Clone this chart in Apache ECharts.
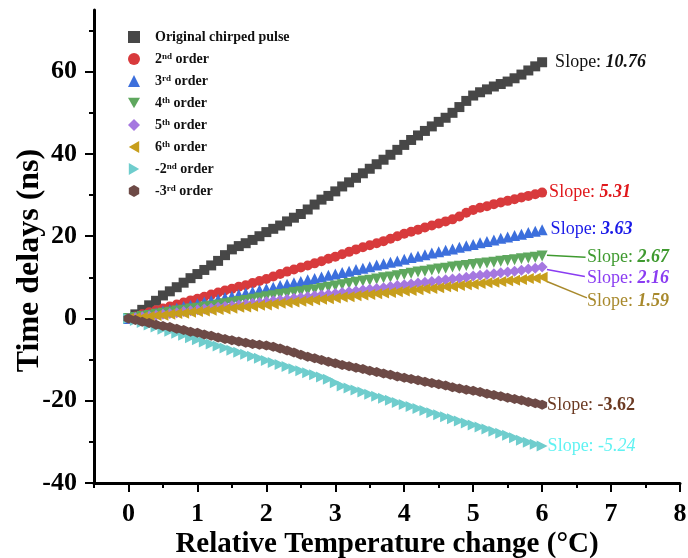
<!DOCTYPE html>
<html><head><meta charset="utf-8">
<script src="https://cdn.jsdelivr.net/npm/echarts@6/dist/echarts.min.js"></script>
<style>html,body{margin:0;padding:0;background:#fff}#c{width:688px;height:558px}</style>
</head><body><div id="c"></div>
<script>
const temps = [0,0.1,0.2,0.3,0.4,0.5,0.6,0.7,0.8,0.9,1.0,1.1,1.2,1.3,1.4,1.5,1.6,1.7,1.8,1.9,2.0,2.1,2.2,2.3,2.4,2.5,2.6,2.7,2.8,2.9,3.0,3.1,3.2,3.3,3.4,3.5,3.6,3.7,3.8,3.9,4.0,4.1,4.2,4.3,4.4,4.5,4.6,4.7,4.8,4.9,5.0,5.1,5.2,5.3,5.4,5.5,5.6,5.7,5.8,5.9,6.0];
const seriesNames = ['Original chirped pulse','2nd order','3rd order','4th order','5th order','6th order','-2nd order','-3rd order'];
const original = [0,1.0,2.1,3.2,4.3,5.6,6.6,7.6,8.7,9.8,10.8,11.8,12.9,14.0,15.4,16.8,17.6,18.3,19.1,20.0,21.0,21.8,22.6,23.6,24.5,25.4,26.5,27.7,28.9,29.8,30.9,32.1,33.1,34.2,35.3,36.4,37.5,38.6,39.8,41.0,42.2,43.4,44.5,45.6,46.7,47.8,48.8,50.0,51.4,52.9,54.2,55.0,55.7,56.4,57.0,57.6,58.4,59.3,60.3,61.3,62.3];
const order2 = [0,0.5,1.0,1.5,2.0,2.4,2.9,3.4,3.9,4.4,4.8,5.3,5.8,6.3,6.8,7.2,7.7,8.1,8.6,9.1,9.6,10.2,10.8,11.4,11.9,12.4,12.9,13.4,13.9,14.5,15.0,15.6,16.2,16.8,17.3,17.8,18.3,18.8,19.4,20.0,20.6,21.1,21.6,22.1,22.6,23.1,23.6,24.1,24.8,25.7,26.4,26.9,27.3,27.8,28.2,28.6,29.0,29.4,29.8,30.2,30.6];
const order3 = [0,0.3,0.7,1.0,1.4,1.8,2.1,2.5,2.9,3.2,3.6,4.0,4.3,4.7,5.1,5.4,5.8,6.2,6.5,6.9,7.2,7.6,8.0,8.3,8.7,9.0,9.4,9.7,10.1,10.5,10.8,11.2,11.5,11.9,12.2,12.6,13.0,13.3,13.7,14.0,14.4,14.8,15.1,15.5,15.9,16.2,16.6,16.9,17.3,17.7,18.0,18.4,18.7,19.1,19.5,19.8,20.2,20.5,20.9,21.2,21.6];
const order4 = [0,0.25,0.5,0.75,1.0,1.25,1.5,1.8,2.0,2.3,2.5,2.8,3.0,3.3,3.6,3.8,4.1,4.4,4.7,5.0,5.3,5.5,5.8,6.0,6.3,6.5,6.8,7.0,7.3,7.6,7.9,8.2,8.5,8.8,9.1,9.3,9.6,9.9,10.1,10.4,10.7,11.0,11.3,11.5,11.8,12.0,12.2,12.5,12.7,12.9,13.1,13.3,13.5,13.7,13.9,14.1,14.3,14.5,14.7,14.9,15.2];
const order5 = [0,0.2,0.4,0.6,0.8,1.0,1.2,1.4,1.7,1.9,2.1,2.3,2.5,2.7,2.9,3.1,3.3,3.5,3.7,3.9,4.1,4.3,4.5,4.7,4.9,5.1,5.3,5.5,5.7,5.9,6.1,6.3,6.5,6.7,6.9,7.1,7.3,7.5,7.8,8.0,8.2,8.4,8.6,8.8,9.0,9.2,9.4,9.6,9.8,10.0,10.3,10.5,10.7,10.9,11.1,11.3,11.5,11.7,12.0,12.2,12.5];
const order6 = [0,0.2,0.3,0.5,0.7,0.8,1.0,1.2,1.3,1.5,1.7,1.8,2.0,2.2,2.3,2.5,2.7,2.8,3.0,3.2,3.3,3.5,3.7,3.8,4.0,4.2,4.3,4.5,4.7,4.8,5.0,5.2,5.3,5.5,5.7,5.8,6.0,6.2,6.3,6.5,6.7,6.8,7.0,7.2,7.3,7.5,7.7,7.8,8.0,8.2,8.3,8.5,8.7,8.8,9.0,9.2,9.3,9.5,9.7,9.8,10.0];
const orderM2 = [0,-0.5,-1.0,-1.6,-2.1,-2.6,-3.1,-3.6,-4.1,-4.7,-5.2,-5.7,-6.2,-6.7,-7.2,-7.7,-8.2,-8.7,-9.2,-9.7,-10.2,-10.7,-11.2,-11.7,-12.2,-12.7,-13.2,-13.7,-14.2,-14.8,-15.6,-16.4,-16.9,-17.4,-17.9,-18.4,-18.9,-19.4,-19.9,-20.4,-20.9,-21.4,-21.9,-22.4,-22.9,-23.4,-23.9,-24.4,-24.9,-25.4,-25.9,-26.4,-26.9,-27.4,-27.9,-28.4,-29.0,-29.6,-30.1,-30.6,-31.0];
const orderM3 = [0,-0.4,-0.8,-1.1,-1.5,-1.8,-2.1,-2.5,-2.8,-3.2,-3.5,-3.9,-4.2,-4.6,-5.0,-5.3,-5.6,-5.9,-6.2,-6.4,-6.6,-6.9,-7.3,-7.8,-8.3,-8.8,-9.3,-9.7,-10.1,-10.5,-10.9,-11.3,-11.6,-12.0,-12.3,-12.7,-13.0,-13.4,-13.7,-14.1,-14.4,-14.7,-15.0,-15.4,-15.7,-16.0,-16.3,-16.7,-17.0,-17.3,-17.6,-17.9,-18.3,-18.6,-18.9,-19.3,-19.6,-19.9,-20.3,-20.6,-21.0];
const slopes = ['10.76','5.31','3.63','2.67','2.16','1.59','-5.24','-3.62'];
const xTicks = [0,1,2,3,4,5,6,7,8];
const xMinorTicks = [-0.5,0.5,1.5,2.5,3.5,4.5,5.5,6.5,7.5];
const yTicks = [-40,-20,0,20,40,60];
const yMinorTicks = [-30,-10,10,30,50,70];

const allValues = [original, order2, order3, order4, order5, order6, orderM2, orderM3];
const FONT = "'Times New Roman','Liberation Serif',serif";
const hex = 'path://M0,-10 L8.66,-5 L8.66,5 L0,10 L-8.66,5 L-8.66,-5 Z';
const triDown = 'path://M0,0 L10,0 L5,8.66 Z';
const triLeft = 'path://M8.66,0 L8.66,10 L0,5 Z';
const triRight = 'path://M0,0 L8.66,5 L0,10 Z';
const styles = [
  {color:'#474747', symbol:'rect', size:10, lab:'#111111', bold:true, italic:true, dist:8},
  {color:'#d83a3c', symbol:'circle', size:10, lab:'#e0181c', bold:true, italic:true, dist:2},
  {color:'#3c6fdc', symbol:'triangle', size:11, lab:'#1a1ae8', bold:true, italic:true, dist:3},
  {color:'#5ea75e', symbol:triDown, size:11, lab:'#3f9a2f', bold:true, italic:true,
    arrow:[[6.07,15.4],[6.63,14.9]], text:[6.65,14.9]},
  {color:'#a577e0', symbol:'diamond', size:11, lab:'#8a3cf2', bold:true, italic:true,
    arrow:[[6.07,11.9],[6.62,10.2]], text:[6.65,9.8]},
  {color:'#c79e1c', symbol:triLeft, size:11, lab:'#a8892c', bold:true, italic:true,
    arrow:[[6.07,9.0],[6.65,5.0]], text:[6.65,4.2]},
  {color:'#6fcdcd', symbol:triRight, size:11, lab:'#5ff2f2', bold:false, italic:true, dist:0},
  {color:'#6d4a46', symbol:hex, size:10, lab:'#6b3a22', bold:true, italic:false, dist:0}
];

function richFor(st){
  return {
    n:{fontFamily:FONT, fontSize:18, color:st.lab},
    v:{fontFamily:FONT, fontSize:18, color:st.lab, fontWeight: st.bold?'bold':'normal', fontStyle: st.italic?'italic':'normal'}
  };
}

const series = seriesNames.map((name, si) => {
  const st = styles[si];
  const vals = allValues[si];
  const data = temps.map((t, i) => [t, vals[i]]);
  const labelText = '{n|Slope: }{v|' + slopes[si] + '}';
  if (!st.arrow) {
    const last = data.length - 1;
    data[last] = {value: data[last], label:{show:true, position:'right', distance:st.dist, formatter:labelText, rich:richFor(st)}};
  }
  const s = {
    name, type:'scatter', data, symbol:st.symbol, symbolSize:st.size,
    itemStyle:{color:st.color, opacity:1}, emphasis:{disabled:true}, silent:true, z:2+si
  };
  if (st.arrow) {
    s.markLine = {silent:true, symbol:['none','arrow'], symbolSize:[0,9], animation:false,
      lineStyle:{color:st.lab, width:1.5, type:'solid'}, label:{show:false},
      data:[[{coord:st.arrow[0]},{coord:st.arrow[1]}]]};
    s.markPoint = {silent:true, symbol:'circle', symbolSize:0, animation:false,
      label:{show:true, position:'right', distance:0, formatter:labelText, rich:richFor(st)},
      data:[{coord:st.text}]};
  }
  return s;
});

function legendFmt(name){
  const m = name.match(/^(-?\d)(st|nd|rd|th)( order)$/);
  if (m) return '{b|' + m[1] + '}{s|' + m[2] + '}{b|' + m[3] + '}';
  return '{b|' + name + '}';
}

const tickStyle = {color:'#000', width:2};
function tickAxis(min, max, pos, values, len){
  return {type:'value', min, max, position:pos, gridIndex:0,
    axisLine:{show:false, onZero:false}, splitLine:{show:false}, axisLabel:{show:false},
    axisTick:{show:true, inside:false, length:len, customValues:values, lineStyle:tickStyle}};
}

const option = {
  backgroundColor:'#ffffff',
  animation:false,
  grid:{left:94, right:8, top:10, bottom:75, containLabel:false, outerBoundsMode:'none'},
  legend:{
    orient:'vertical', left:123, top:25, itemWidth:12, itemHeight:12, itemGap:8,
    data:seriesNames, selectedMode:false,
    formatter:legendFmt,
    textStyle:{padding:[0,0,0,10], rich:{
      b:{fontFamily:FONT, fontSize:14, fontWeight:'bold', color:'#111', lineHeight:14, verticalAlign:'bottom'},
      s:{fontFamily:FONT, fontSize:9, fontWeight:'bold', color:'#111', lineHeight:7, verticalAlign:'top'}
    }}
  },
  xAxis:[
    {
      type:'value', min:-0.5, max:8, position:'bottom',
      axisLine:{show:true, onZero:false, lineStyle:{color:'#000', width:3}},
      splitLine:{show:false},
      axisTick:{show:false},
      axisLabel:{customValues:xTicks, margin:18, fontFamily:FONT, fontSize:26, fontWeight:'bold', color:'#000'},
      name:'Relative Temperature change (°C)', nameLocation:'middle', nameGap:47, nameMoveOverlap:false,
      nameTextStyle:{fontFamily:FONT, fontSize:29, fontWeight:'bold', color:'#000'}
    },
    tickAxis(-0.5, 8, 'bottom', xTicks, 9),
    tickAxis(-0.5, 8, 'bottom', xMinorTicks, 5)
  ],
  yAxis:[
    {
      type:'value', min:-40, max:75, position:'left',
      axisLine:{show:true, onZero:false, lineStyle:{color:'#000', width:3}},
      splitLine:{show:false},
      axisTick:{show:false},
      axisLabel:{customValues:yTicks, margin:17, fontFamily:FONT, fontSize:26, fontWeight:'bold', color:'#000'},
      name:'Time delays (ns)', nameLocation:'middle', nameGap:48, nameMoveOverlap:false,
      nameTextStyle:{fontFamily:FONT, fontSize:32, fontWeight:'bold', color:'#000', padding:[0,28,0,0]}
    },
    tickAxis(-40, 75, 'left', yTicks, 9),
    tickAxis(-40, 75, 'left', yMinorTicks, 5)
  ],
  series
};

const chart = echarts.init(document.getElementById('c'), null, {renderer:'canvas'});
chart.setOption(option);
</script>
</body></html>
